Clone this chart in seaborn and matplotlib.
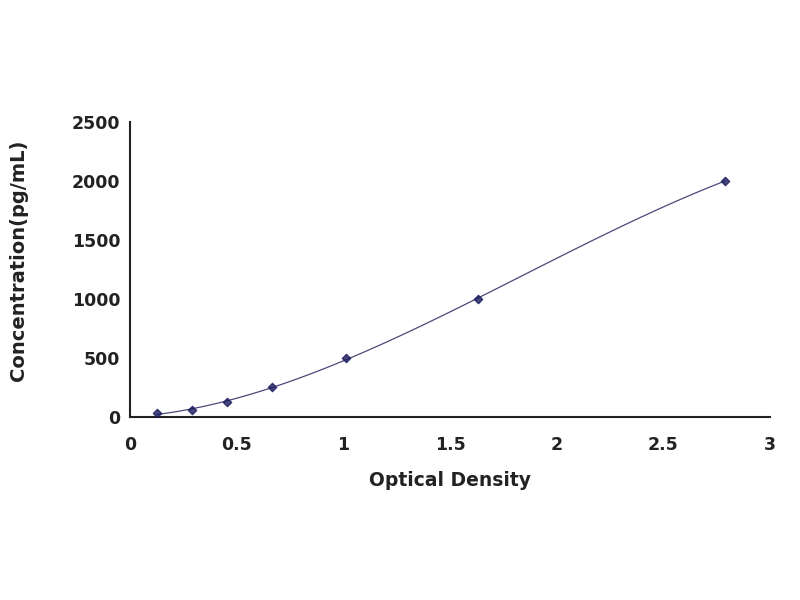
import seaborn as sns
import matplotlib.pyplot as plt
import pandas as pd

# standard curve readings
od = [0.127, 0.29, 0.455, 0.666, 1.013, 1.63, 2.79]
conc = [31.25, 62.5, 125, 250, 500, 1000, 2000]

x_ticks = [0, 0.5, 1, 1.5, 2, 2.5, 3]
x_labels = ['0', '0.5', '1', '1.5', '2', '2.5', '3']
y_ticks = [0, 500, 1000, 1500, 2000, 2500]

df = pd.DataFrame({'od': od, 'conc': conc})

sns.set_style('white')
plt.rcParams['font.family'] = ['DejaVu Sans']

fig = plt.figure(figsize=(8, 6), dpi=100)
ax = fig.add_axes([0.1625, 0.305, 0.80, 0.492])

sns.regplot(data=df, x='od', y='conc', order=3, ci=None, ax=ax,
            marker='D',
            scatter_kws={'s': 18, 'color': '#1a1a5e', 'zorder': 3},
            line_kws={'color': '#4a4a7a', 'linewidth': 0.9})

ax.set_xlim(0, 3)
ax.set_ylim(0, 2500)
ax.set_xticks(x_ticks)
ax.set_xticklabels(x_labels)
ax.set_yticks(y_ticks)
ax.tick_params(direction='in', length=5, width=1.2, labelsize=12.5)
ax.tick_params(axis='x', pad=14)
ax.tick_params(axis='y', pad=7)
for lbl in ax.get_xticklabels() + ax.get_yticklabels():
    lbl.set_fontweight('bold')
    lbl.set_color('#222222')

for side in ['top', 'right']:
    ax.spines[side].set_visible(False)
for side in ['left', 'bottom']:
    ax.spines[side].set_color('#222222')
    ax.spines[side].set_linewidth(1.5)

ax.set_xlabel('Optical Density', fontsize=13.5, fontweight='bold', color='#222222', labelpad=12)
ax.set_ylabel('Concentration(pg/mL)', fontsize=14, fontweight='bold', color='#222222')
ax.yaxis.set_label_coords(-0.16, 0.53)

fig.savefig('out.png', dpi=100, facecolor='white')
